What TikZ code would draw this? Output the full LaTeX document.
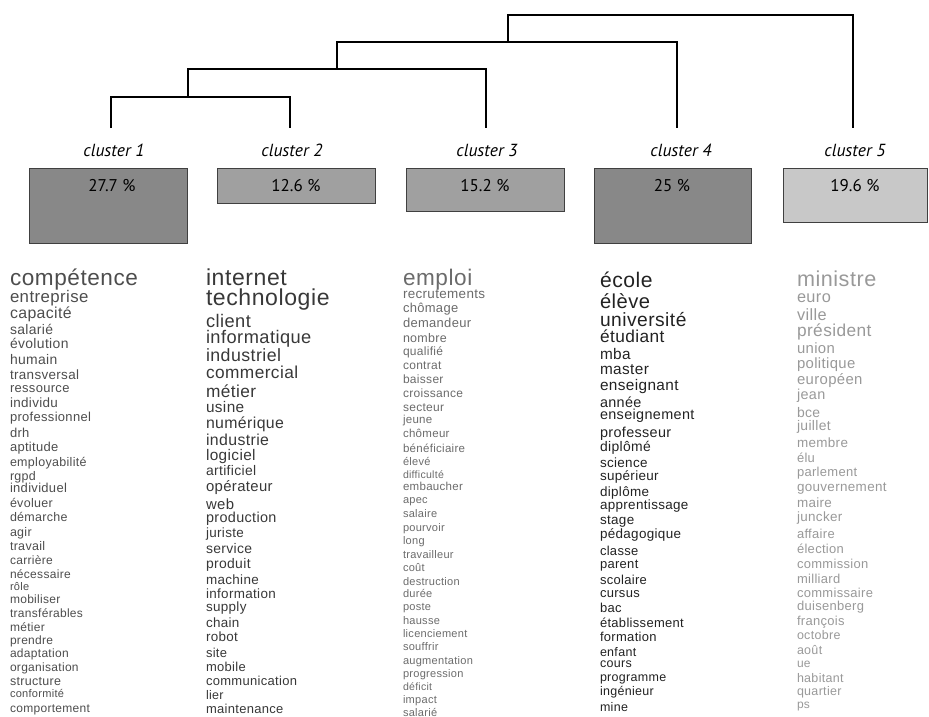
\documentclass[tikz,border=0pt]{standalone}
\usepackage{fontspec}
\setmainfont{Liberation Sans}
\newfontfamily\labelfont{PT Sans}
\newfontfamily\wordfont[LetterSpace=2.5]{Liberation Sans}
\definecolor{colA}{HTML}{4D4D4D}
\definecolor{colB}{HTML}{383838}
\definecolor{colC}{HTML}{6B6B6B}
\definecolor{colD}{HTML}{222222}
\definecolor{colE}{HTML}{999999}
\definecolor{boxdark}{HTML}{888888}
\definecolor{boxmid}{HTML}{A0A0A0}
\definecolor{boxlight}{HTML}{C8C8C8}
\tikzset{
  dendro/.style={line width=1.3pt, draw=black},
  clabel/.style={font=\labelfont\itshape\fontsize{17.5}{17.5}\selectfont, inner sep=0pt},
  pbox/.style={draw=black!75, line width=0.8pt, anchor=north west, inner sep=0pt},
  ptext/.style={font=\labelfont\fontsize{17}{17}\selectfont, inner sep=0pt},
  word/.style={anchor=base west, inner sep=0pt, outer sep=0pt},
}
\newcommand\wordcol[4]{%
  \foreach \wy/\wz/\ww [count=\wi, evaluate=\wz as \wf using 0.96*\wz] in {#4} {
    \node[word, text=#2, font=\wordfont\fontsize{\wf}{\wf}\selectfont] (#3\wi) at (#1, {\wy+0.32*\wz}) {\ww};
  }%
}
\begin{document}
\begin{tikzpicture}[x=1pt,y=-1pt]
\useasboundingbox (0,0) rectangle (929,716);
\clip (0,0) rectangle (929,716);

% dendrogram
\coordinate (l1) at (111,128);
\coordinate (l2) at (290,128);
\coordinate (l3) at (486,128);
\coordinate (l4) at (677,128);
\coordinate (l5) at (853,128);
\coordinate (m12) at (188,97);
\coordinate (m123) at (337,69);
\coordinate (m1234) at (508,42);
\coordinate (mall) at (508,15);
\draw[dendro] (l1) |- (m12) -| (l2);
\draw[dendro] (m12) |- (m123) -| (l3);
\draw[dendro] (m123) |- (m1234) -| (l4);
\draw[dendro] (m1234) -- (mall) -| (l5);

% cluster labels
\node[clabel] (c1) at (114,150) {cluster 1};
\node[clabel] (c2) at (292,150) {cluster 2};
\node[clabel] (c3) at (487,150) {cluster 3};
\node[clabel] (c4) at (681,150) {cluster 4};
\node[clabel] (c5) at (855,150) {cluster 5};

% boxes
\node[pbox, fill=boxdark, minimum width=158, minimum height=75] (b1) at (29,168) {};
\node[pbox, fill=boxmid, minimum width=158, minimum height=35] (b2) at (217,168) {};
\node[pbox, fill=boxmid, minimum width=158, minimum height=43] (b3) at (406,168) {};
\node[pbox, fill=boxdark, minimum width=157, minimum height=75] (b4) at (594,168) {};
\node[pbox, fill=boxlight, minimum width=144, minimum height=54] (b5) at (783,168) {};
\node[ptext] (p1) at (112,186) {27.7 \%};
\node[ptext] (p2) at (296,186) {12.6 \%};
\node[ptext] (p3) at (485,186) {15.2 \%};
\node[ptext] (p4) at (672,186) {25 \%};
\node[ptext] (p5) at (855,186) {19.6 \%};

% word columns
\wordcol{10}{colA}{wa}{278/23.5/compétence, 297/17.5/entreprise, 313/16.5/capacité, 330/14.5/salarié, 344/14.5/évolution, 360/14.5/humain, 375/14/transversal, 388/13.5/ressource, 403/14/individu, 417/13.5/professionnel, 433/13.5/drh, 447/13.5/aptitude, 462/13/employabilité, 476/13/rgpd, 488/13.5/individuel, 503/13/évoluer, 517/13/démarche, 532/13/agir, 546/13/travail, 560/12.5/carrière, 574/12.5/nécessaire, 587/11.5/rôle, 599/12.5/mobiliser, 613/12.5/transférables, 627/12.5/métier, 640/12.5/prendre, 653/12.5/adaptation, 667/12.5/organisation, 681/13/structure, 694/11.5/conformité, 708/12.5/comportement}

\wordcol{206}{colB}{wb}{278/24/internet, 298/24/technologie, 321/19/client, 337/19/informatique, 356/18.5/industriel, 373/18/commercial, 392/18/métier, 407/16/usine, 423/16.5/numérique, 440/16.5/industrie, 455/16/logiciel, 471/14.5/artificiel, 487/15.5/opérateur, 505/15.5/web, 518/15/production, 533/14/juriste, 549/14.5/service, 564/14.5/produit, 580/14/machine, 594/14/information, 607/14/supply, 623/14/chain, 637/14/robot, 653/13.5/site, 667/13.5/mobile, 681/13.5/communication, 695/13/lier, 709/13.5/maintenance}

\wordcol{403}{colC}{wc}{278/23.5/emploi, 294/14/recrutements, 308/13.5/chômage, 323/13.5/demandeur, 338/13/nombre, 351/12.5/qualifié, 365/12.5/contrat, 379/12.5/baisser, 393/12.5/croissance, 407/12.5/secteur, 420/12/jeune, 434/12/chômeur, 449/12/bénéficiaire, 462/11.5/élevé, 475/11/difficulté, 487/12/embaucher, 500/11.5/apec, 514/11.5/salaire, 528/11.5/pourvoir, 541/11.5/long, 555/11.5/travailleur, 568/11.5/coût, 582/11.5/destruction, 594/11.5/durée, 607/11.5/poste, 621/11.5/hausse, 634/11.5/licenciement, 647/11.5/souffrir, 661/11.5/augmentation, 674/11.5/progression, 687/11/déficit, 700/11.5/impact, 713/11.5/salarié}

\wordcol{600}{colD}{wd}{280/22/école, 302/21/élève, 320/20/université, 337/18/étudiant, 354/16/mba, 369/16/master, 385/16/enseignant, 403/15/année, 415/15/enseignement, 433/15/professeur, 447/14.5/diplômé, 463/14/science, 476/14/supérieur, 492/14/diplôme, 505/14/apprentissage, 520/14/stage, 534/14/pédagogique, 551/13.5/classe, 564/13.5/parent, 580/13.5/scolaire, 593/13.5/cursus, 608/13.5/bac, 623/13.5/établissement, 637/13.5/formation, 652/13/enfant, 663/13/cours, 677/13/programme, 691/13/ingénieur, 707/13/mine}

\wordcol{797}{colE}{we}{279/22.5/ministre, 297/17/euro, 315/17/ville, 331/18/président, 349/15.5/union, 364/15.5/politique, 380/15.5/européen, 395/15/jean, 413/14.5/bce, 426/14.5/juillet, 443/14/membre, 458/13.5/élu, 472/13.5/parlement, 487/14/gouvernement, 503/14/maire, 517/14/juncker, 534/13.5/affaire, 549/13.5/élection, 564/13.5/commission, 579/13.5/milliard, 593/13.5/commissaire, 606/13.5/duisenberg, 621/13.5/françois, 635/13/octobre, 650/13/août, 663/12.5/ue, 678/13/habitant, 691/13/quartier, 704/12.5/ps}
\end{tikzpicture}
\end{document}
